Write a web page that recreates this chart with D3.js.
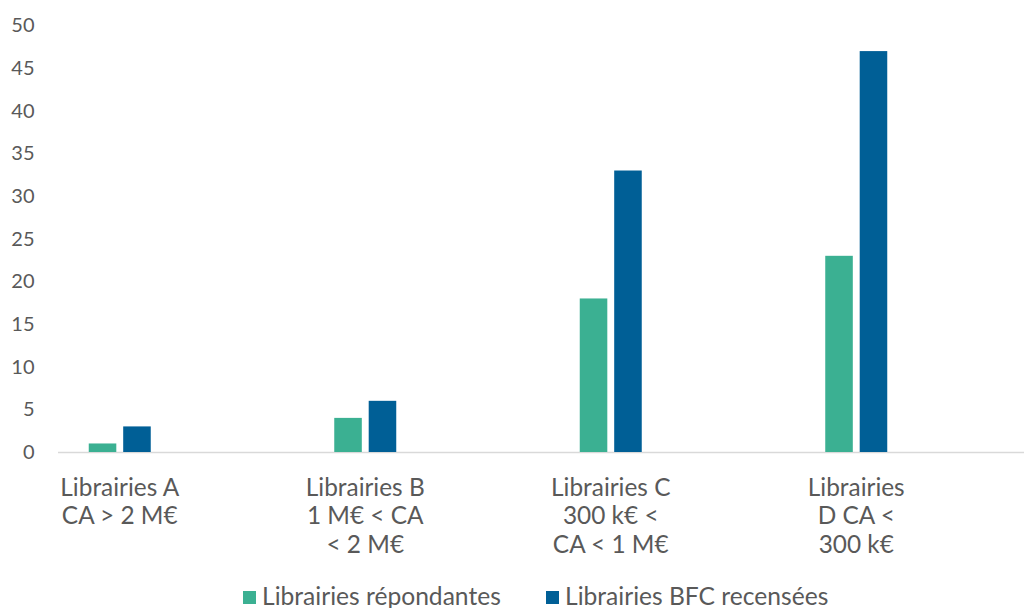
<!DOCTYPE html>
<html>
<head>
<meta charset="utf-8">
<script src="https://cdn.jsdelivr.net/npm/d3@7"></script>
<style>
  body { margin: 0; background: #fff; }
  svg { display: block; font-family: Lato, "Open Sans", sans-serif; }
</style>
</head>
<body>
<div id="chart"></div>
<script>
// categories (each line of the axis label)
var categories = [
  ["Librairies A", "CA > 2 M€"],
  ["Librairies B", "1 M€ < CA", "< 2 M€"],
  ["Librairies C", "300 k€ <", "CA < 1 M€"],
  ["Librairies", "D CA <", "300 k€"]
];
var seriesNames = ["Librairies répondantes", "Librairies BFC recensées"];
var repondantes = [1, 4, 18, 23];
var recensees = [3, 6, 33, 47];
var yTicks = [0, 5, 10, 15, 20, 25, 30, 35, 40, 45, 50];

var colors = ["#3BB092", "#005F96"];
var width = 1024, height = 608;

var svg = d3.select("#chart")
  .append("svg")
  .attr("width", width)
  .attr("height", height);

// x band per category, inner band per series
var x0 = d3.scaleBand()
  .domain(d3.range(categories.length))
  .range([-3, 979]);

var x1 = d3.scaleBand()
  .domain(seriesNames)
  .range([-31, 31])
  .paddingInner(0.2);

var y = d3.scaleLinear()
  .domain([0, 50])
  .range([452, 25.5]);

// y axis labels only
var yAxis = d3.axisLeft(y)
  .tickValues(yTicks)
  .tickSize(0)
  .tickPadding(0);

svg.append("g")
  .attr("transform", "translate(34.5,0)")
  .call(yAxis)
  .call(function (g) { g.select(".domain").remove(); })
  .selectAll("text")
    .attr("fill", "#595959")
    .style("font-size", "20px")
    .style("font-family", "Lato, sans-serif");

// baseline
svg.append("line")
  .attr("x1", 58)
  .attr("x2", width)
  .attr("y1", y(0) + 0.5)
  .attr("y2", y(0) + 0.5)
  .attr("stroke", "#D9D9D9")
  .attr("stroke-width", 1.5);

// bars
var rows = categories.map(function (c, i) {
  return [
    { s: seriesNames[0], v: repondantes[i] },
    { s: seriesNames[1], v: recensees[i] }
  ];
});

var groups = svg.append("g")
  .selectAll("g")
  .data(rows)
  .enter()
  .append("g")
    .attr("transform", function (d, i) {
      return "translate(" + (x0(i) + x0.bandwidth() / 2) + ",0)";
    });

groups.selectAll("rect")
  .data(function (d) { return d; })
  .enter()
  .append("rect")
    .attr("x", function (d) { return x1(d.s); })
    .attr("width", x1.bandwidth())
    .attr("y", function (d) { return y(d.v); })
    .attr("height", function (d) { return y(0) - y(d.v); })
    .attr("fill", function (d, i) { return colors[i]; });

// category labels
var labels = svg.append("g")
  .selectAll("text")
  .data(categories)
  .enter()
  .append("text")
    .attr("x", function (d, i) { return x0(i) + x0.bandwidth() / 2; })
    .attr("y", 495.5)
    .attr("text-anchor", "middle")
    .attr("fill", "#595959")
    .style("font-size", "24.4px");

labels.selectAll("tspan")
  .data(function (d) { return d; })
  .enter()
  .append("tspan")
    .attr("x", function () { return d3.select(this.parentNode).attr("x"); })
    .attr("dy", function (d, i) { return i === 0 ? 0 : 28.7; })
    .text(function (d) { return d; });

// legend
var legendX = [243, 546];
var legend = svg.append("g")
  .selectAll("g")
  .data(seriesNames)
  .enter()
  .append("g")
    .attr("transform", function (d, i) { return "translate(" + legendX[i] + ",591)"; });

legend.append("rect")
  .attr("width", 13)
  .attr("height", 13)
  .attr("fill", function (d, i) { return colors[i]; });

legend.append("text")
  .attr("x", 19)
  .attr("y", 13.5)
  .attr("fill", "#595959")
  .style("font-size", "24.6px")
  .text(function (d) { return d; });
</script>
</body>
</html>
